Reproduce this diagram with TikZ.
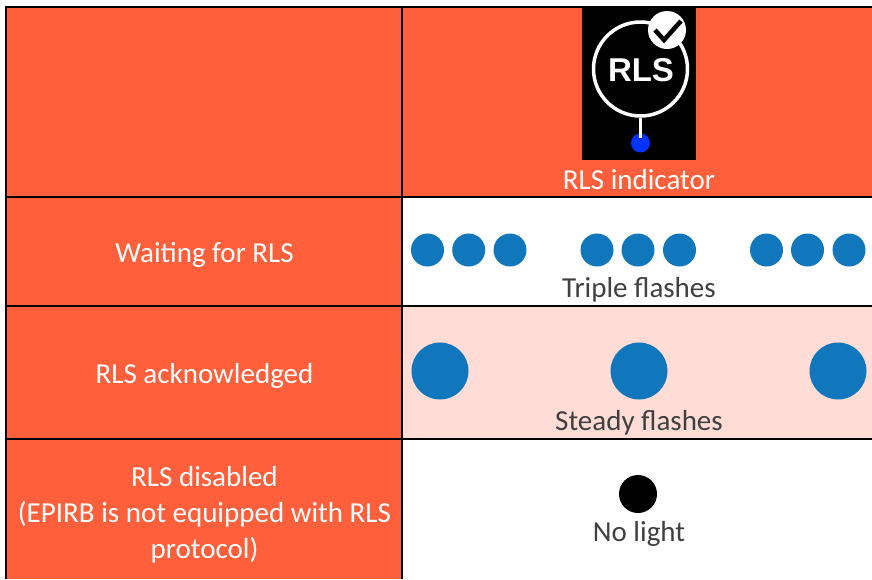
\documentclass[tikz,border=0pt]{standalone}
\usepackage{fontspec}
\setmainfont{Carlito}
\newfontfamily\iconfont{Liberation Sans}
\definecolor{rlsorange}{HTML}{FF5F3A}
\definecolor{rlspink}{HTML}{FFDDD6}
\definecolor{rlsblue}{HTML}{1177BD}
\definecolor{rlsgrey}{HTML}{404040}
\definecolor{rlsled}{HTML}{0033FF}
\tikzset{
  gridline/.style={black,line width=2.6pt},
  lamp/.style={circle,fill=rlsblue,draw=none,inner sep=0pt,minimum size=#1},
  headtext/.style={text=white,font=\fontsize{29}{36}\selectfont,align=center,inner sep=0pt},
  notetext/.style={text=rlsgrey,font=\fontsize{29}{36}\selectfont,align=center,inner sep=0pt}
}
\begin{document}
\begin{tikzpicture}[x=1pt,y=-1pt]
\useasboundingbox (0,0) rectangle (872,579);
\fill[white] (0,0) rectangle (872,579);
\fill[rlsorange] (6,7) rectangle (402,579);
\fill[rlsorange] (402,7) rectangle (872,197);
\fill[rlspink] (402,306) rectangle (872,439);
% icon
\fill[black] (582,7) rectangle (696,160);
\node[circle,draw=white,line width=3.5pt,fill=none,minimum size=94pt,inner sep=0pt] (ring) at (640.5,69) {};
\node[circle,fill=rlsled,inner sep=0pt,minimum size=19pt] (led) at (640.5,143) {};
\draw[white,line width=3.5pt] (ring.south) -- ([yshift=-5pt]led.north);
\node[text=white,inner sep=0pt,font=\iconfont\bfseries\fontsize{33}{33}\selectfont] (rlsmark) at (641,70) {RLS};
\node[circle,fill=white,inner sep=0pt,minimum size=38pt] (badge) at (667,30) {};
\coordinate (c1) at (655,30);
\coordinate (c2) at (664,40);
\coordinate (c3) at (681,21);
\draw[black,line width=4.5pt] (c1) -- (c2) -- (c3);
% grid
\draw[gridline] (6,7) -- (872,7);
\draw[gridline] (6,197) -- (872,197);
\draw[gridline] (6,306) -- (872,306);
\draw[gridline] (6,439) -- (872,439);
\draw[gridline] (6,6) -- (6,579);
\draw[gridline] (402,6) -- (402,579);
% left
\node[headtext] (h0) at (639,180) {RLS indicator};
\node[headtext] (h1) at (204.5,255) {Waiting for RLS};
\node[headtext] (h2) at (204.5,376) {RLS acknowledged};
\node[headtext] (h3) at (204.5,515) {RLS disabled\\(EPIRB is not equipped with RLS\\protocol)};
% lamps
\foreach \n/\x in {a/427.5,b/468.7,c/510,d/597,e/638,f/679.5,g/766.5,h/807.5,i/849}
  \node[lamp=33pt] (t\n) at (\x,250) {};
\foreach \n/\x in {a/440,b/639,c/838}
  \node[lamp=57pt] (s\n) at (\x,371) {};
\node[circle,fill=black,inner sep=0pt,minimum size=38pt] (off) at (638,494) {};
\node[notetext] (n1) at (639,290) {Triple flashes};
\node[notetext] (n2) at (639,423) {Steady flashes};
\node[notetext] (n3) at (639,534) {No light};
\end{tikzpicture}
\end{document}
